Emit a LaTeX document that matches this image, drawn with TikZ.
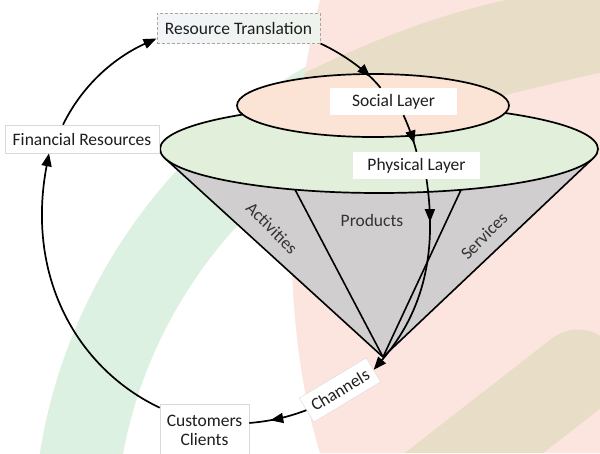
\documentclass[tikz,border=0pt]{standalone}
\usepackage{fontspec}
\setmainfont{Carlito}
\usetikzlibrary{arrows.meta,decorations.markings,calc}
\definecolor{bgpink}{HTML}{FCE5DF}
\definecolor{bgtan}{HTML}{E8DDC6}
\definecolor{bggreen}{HTML}{DDF1E2}
\definecolor{ellgreen}{HTML}{E2EFDA}
\definecolor{ellpeach}{HTML}{FBE4D5}
\definecolor{conegray}{HTML}{D0CECE}
\definecolor{txt}{HTML}{1E1E1E}
\definecolor{lbltxt}{HTML}{333333}
\definecolor{rtleft}{HTML}{F2F4F8}
\definecolor{rtright}{HTML}{EEF3EC}
\definecolor{dashgray}{HTML}{A6A6A6}
\definecolor{boxline}{HTML}{D9D9D9}
\tikzset{
  flow/.style={draw=black, line width=1.7pt},
  tipend/.style={-{Triangle[length=13pt,width=10pt]}},
  midarrow/.style={postaction={decorate,decoration={markings,
      mark=at position #1 with {\arrow{Triangle[length=13pt,width=10pt]}}}}},
  whitebox/.style={fill=white, draw=boxline, line width=0.6pt, inner sep=0pt, text=txt, align=center},
  lblbox/.style={fill=white, inner sep=0pt, text=txt},
  conelbl/.style={text=lbltxt, inner sep=0pt},
  outline/.style={draw=black, line width=1.7pt},
}
\begin{document}
\begin{tikzpicture}[x=1pt,y=-1pt,font=\fontsize{17.5}{20}\selectfont]
\useasboundingbox (0,0) rectangle (600,453);
\fill[white] (0,0) rectangle (600,453);
% background
\begin{scope}
  \clip (0,0) rectangle (600,453);
  \fill[bggreen,even odd rule] (580,540) circle[radius=547] (580,540) circle[radius=465];
  \fill[bgpink] (320,0) .. controls (282,150) and (282,330) .. (320,453) -- (600,453) -- (600,0) -- cycle;
  \clip (320,0) .. controls (282,150) and (282,330) .. (320,453) -- (600,453) -- (600,0) -- cycle;
  \fill[bgtan] (280,85) .. controls (380,35) and (460,5) .. (560,-10) -- (620,-10) -- (620,68)
     .. controls (560,82) and (450,105) .. (280,160) -- cycle;
  \draw[bgtan, line width=85pt, line cap=round] (578,372) -- (420,495);
\end{scope}
% cone
\coordinate (E) at (379,149);
\coordinate (apex) at (383,357);
\coordinate (tl) at ($(E)+(167.57:219 and 44)$);
\coordinate (tr) at ($(E)+(12.43:219 and 44)$);
\coordinate (il) at ($(E)+(112.55:219 and 44)$);
\coordinate (ir) at ($(E)+(68.0:219 and 44)$);
\fill[conegray] (apex) -- (tl) -- (tr) -- cycle;
\draw[black, line width=1.6pt, line join=round] (tl) -- (apex) -- (tr);
\draw[black, line width=1.6pt] (il) -- (apex);
\draw[black, line width=1.6pt] (ir) -- (apex);
% layers
\filldraw[fill=ellgreen, outline] (E) ellipse [x radius=219, y radius=44];
\filldraw[fill=ellpeach, outline] (373,105.5) ellipse [x radius=136, y radius=31.5];
% cone labels
\node[conelbl, rotate=-45] (act) at (272,228) {Activities};
\node[conelbl] (prod) at (372,220) {Products};
\node[conelbl, rotate=45] (serv) at (484,236) {Services};
% boxes
\node[draw=dashgray, dash pattern=on 3pt off 2pt, line width=1pt, left color=rtleft, right color=rtright,
      inner sep=0pt, minimum width=163pt, minimum height=30pt, text=txt] (rt) at (238.5,28) {Resource Translation};
\node[whitebox, minimum width=154pt, minimum height=28pt] (fin) at (82,139) {Financial Resources};
\node[whitebox, minimum width=89pt, minimum height=52pt] (cust) at (204.5,430) {Customers\\[-1pt]Clients};
\node[lblbox, minimum width=127pt, minimum height=27pt] (soc) at (393.5,101.5) {Social Layer};
\node[lblbox, minimum width=127pt, minimum height=27pt] (phys) at (416.5,165.5) {Physical Layer};
\node[lblbox, draw=boxline, line width=0.4pt, rotate=31, minimum width=78pt, minimum height=28pt] (ch) at (340,390) {Channels};
% connectors
\draw[flow, tipend] ([xshift=-19pt]fin.north) .. controls (85,80) and (120,55) .. ([yshift=5pt]rt.south west);
\draw[flow, midarrow=0.8] (rt.south east) .. controls (345,55) and (368,72) .. ([xshift=-13pt]soc.north);
\draw[flow, midarrow=0.78] ([xshift=10pt]soc.south) .. controls (408,125) and (413,138) .. (phys.north);
\draw[flow, midarrow=0.21, tipend] ([xshift=10pt]phys.south) .. controls (437,250) and (425,310) .. (ch.east);
\draw[flow, midarrow=0.64] (ch.west) .. controls (288,417) and (272,421) .. ([yshift=7pt]cust.east);
\draw[flow, tipend] ([yshift=-4pt]cust.north west) .. controls (80,370) and (25,280) .. ([xshift=-33pt]fin.south);
\end{tikzpicture}
\end{document}
